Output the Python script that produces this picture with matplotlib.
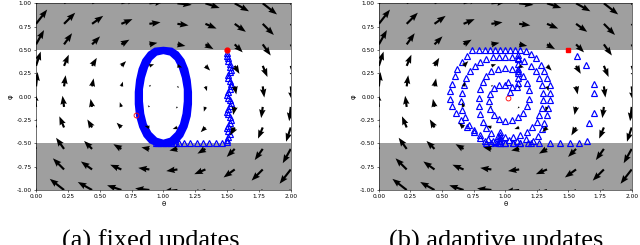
import numpy as np
import matplotlib
matplotlib.use('Agg')
import matplotlib.pyplot as plt
from matplotlib.path import Path
from matplotlib.patches import PathPatch

# --- vector field ---
grid_theta = [0.0, 0.22, 0.44, 0.67, 0.89, 1.11, 1.33, 1.56, 1.78, 2.0]
grid_phi = [-1.0, -0.78, -0.56, -0.33, -0.11, 0.11, 0.33, 0.56, 0.78, 1.0]
flow_u_rows = [-1.0, -0.78, -0.56, -0.33, -0.11, 0.11, 0.33, 0.56, 0.78, 1.0]
flow_v_cols = [1.0, 0.78, 0.56, 0.33, 0.11, -0.11, -0.33, -0.56, -0.78, -1.0]

# --- (a) fixed updates ---
fixed_start = (1.5, 0.5)
fixed_end = (0.786, -0.197)
fixed_down_theta = [1.50, 1.50, 1.51, 1.51, 1.52, 1.52, 1.53, 1.52, 1.51, 1.51, 1.52,
                    1.53, 1.53, 1.52, 1.51, 1.50, 1.51, 1.52, 1.53, 1.52, 1.51, 1.50,
                    1.51, 1.52, 1.53, 1.52, 1.51, 1.50, 1.51, 1.52, 1.51, 1.50, 1.50]
fixed_down_phi = [0.47, 0.44, 0.41, 0.38, 0.35, 0.32, 0.29, 0.26, 0.23, 0.20, 0.17,
                  0.14, 0.11, 0.08, 0.05, 0.02, -0.01, -0.04, -0.07, -0.10, -0.13, -0.16,
                  -0.19, -0.22, -0.25, -0.28, -0.31, -0.34, -0.37, -0.40, -0.43, -0.46, -0.49]
fixed_bottom_theta = [1.46, 1.41, 1.36, 1.31, 1.26, 1.21, 1.16, 1.12, 1.10, 1.08, 1.06,
                      1.04, 1.02, 1.00, 0.98, 0.96, 0.94]
fixed_bottom_phi = [-0.5] * len(fixed_bottom_theta)
# thick orbit band (outer / inner outline of the overlapping markers)
ring_outer_theta = [1.00, 1.07, 1.12, 1.165, 1.195, 1.215, 1.225, 1.225, 1.215, 1.19, 1.155,
                    1.11, 1.05, 0.95, 0.89, 0.845, 0.81, 0.785, 0.775, 0.775, 0.785, 0.805,
                    0.835, 0.88, 0.93]
ring_outer_phi = [0.535, 0.525, 0.48, 0.40, 0.30, 0.18, 0.05, -0.08, -0.21, -0.33, -0.43,
                  -0.50, -0.535, -0.535, -0.50, -0.43, -0.33, -0.21, -0.08, 0.05, 0.18, 0.30,
                  0.40, 0.48, 0.525]
ring_inner_theta = [1.00, 1.05, 1.09, 1.12, 1.145, 1.16, 1.16, 1.15, 1.13, 1.095, 1.05,
                    1.00, 0.95, 0.905, 0.87, 0.85, 0.84, 0.84, 0.855, 0.88, 0.91, 0.95]
ring_inner_phi = [0.455, 0.44, 0.39, 0.31, 0.20, 0.08, -0.05, -0.18, -0.29, -0.38, -0.44,
                  -0.46, -0.44, -0.38, -0.29, -0.18, -0.05, 0.08, 0.20, 0.31, 0.39, 0.44]

# --- (b) adaptive updates ---
adapt_start = (1.5, 0.5)
adapt_end = (1.02, -0.01)
adapt_theta = [
    1.57, 1.64, 1.70, 1.70, 1.70, 1.66, 1.65,
    1.58, 1.51, 1.43, 1.35, 1.27, 1.20, 1.12, 1.06, 1.00, 0.94, 0.89, 0.85,
    0.80, 0.75, 0.70, 0.65, 0.61, 0.58, 0.56, 0.56, 0.58, 0.60, 0.62, 0.66, 0.70,
    0.74, 0.79, 0.84, 0.88, 0.92, 0.96, 1.00, 1.04, 1.08, 1.12, 1.16, 1.20, 1.24,
    1.28, 1.31, 1.33, 1.35, 1.35, 1.35, 1.34, 1.33, 1.31, 1.29, 1.26, 1.22, 1.18,
    1.12, 1.06, 1.00, 0.96, 0.92,
    0.86, 0.80, 0.75, 0.71, 0.68, 0.66, 0.65, 0.66, 0.67, 0.69, 0.72, 0.76, 0.80,
    0.85, 0.90, 0.95, 1.00, 1.05, 1.10, 1.15, 1.20, 1.24, 1.27, 1.29, 1.30, 1.30,
    1.29, 1.27, 1.25, 1.21, 1.17, 1.12, 1.06, 1.00, 0.94, 0.89,
    0.85, 0.82, 0.80, 0.79, 0.79, 0.80, 0.82, 0.85, 0.89, 0.94, 1.00, 1.05, 1.10,
    1.14, 1.17, 1.19, 1.19, 1.17, 1.14, 1.10, 1.05, 1.00, 0.95, 0.91,
    0.88, 0.87, 0.88, 0.91, 0.95, 1.00,
    1.10, 1.10, 1.10, 1.10, 1.10, 1.10, 1.10, 1.09,
    1.02, 1.05, 1.04,
    0.96, 0.96, 0.96, 0.96, 0.96, 0.90, 1.03, 1.09, 1.16, 0.84]
adapt_phi = [
    0.44, 0.34, 0.14, 0.04, -0.17, -0.28, -0.48,
    -0.5, -0.5, -0.5, -0.5, -0.5, -0.5, -0.5, -0.5, -0.5, -0.5, -0.5, -0.5,
    -0.44, -0.38, -0.32, -0.25, -0.18, -0.10, -0.02, 0.06, 0.14, 0.22, 0.30, 0.37, 0.44,
    0.5, 0.5, 0.5, 0.5, 0.5, 0.5, 0.5, 0.5, 0.5, 0.5, 0.49, 0.46, 0.41,
    0.34, 0.27, 0.20, 0.12, 0.04, -0.04, -0.12, -0.20, -0.28, -0.35, -0.42, -0.48, -0.5,
    -0.5, -0.5, -0.5, -0.5, -0.49,
    -0.45, -0.41, -0.36, -0.30, -0.22, -0.14, -0.05, 0.04, 0.12, 0.20, 0.27, 0.33, 0.37,
    0.40, 0.42, 0.42, 0.42, 0.42, 0.41, 0.38, 0.33, 0.27, 0.20, 0.12, 0.04, -0.04,
    -0.12, -0.20, -0.27, -0.33, -0.38, -0.41, -0.43, -0.43, -0.42, -0.39,
    -0.34, -0.27, -0.19, -0.10, -0.01, 0.08, 0.16, 0.22, 0.27, 0.30, 0.31, 0.30, 0.27,
    0.22, 0.15, 0.07, -0.02, -0.10, -0.17, -0.22, -0.25, -0.26, -0.24, -0.20,
    -0.13, -0.05, 0.03, 0.09, 0.12, 0.13,
    0.45, 0.40, 0.35, 0.30, 0.25, 0.20, 0.15, 0.10,
    0.16, 0.10, 0.05,
    -0.38, -0.41, -0.44, -0.47, -0.5, -0.47, -0.46, -0.47, -0.45, -0.47]

captions = ['(a) fixed updates', '(b) adaptive updates']
caption_x = [0.236, 0.775]
x_ticks = [0.0, 0.25, 0.5, 0.75, 1.0, 1.25, 1.5, 1.75, 2.0]
y_ticks = [-1.0, -0.75, -0.5, -0.25, 0.0, 0.25, 0.5, 0.75, 1.0]

BAND_GREY = '#9f9f9f'
TRI_BLUE = '#0000ff'

fig = plt.figure(figsize=(6.4, 2.45), dpi=100)
ax_a = fig.add_axes([0.0563, 0.2245, 0.398, 0.762])
ax_b = fig.add_axes([0.592, 0.2245, 0.395, 0.762])

TT, PP = np.meshgrid(grid_theta, grid_phi)
U = np.tile(np.array(flow_u_rows)[:, None], (1, len(grid_theta)))
V = np.tile(np.array(flow_v_cols)[None, :], (len(grid_phi), 1))


def base_axes(ax):
    ax.axhspan(0.5, 1.0, color=BAND_GREY, lw=0, zorder=0)
    ax.axhspan(-1.0, -0.5, color=BAND_GREY, lw=0, zorder=0)
    ax.set_xlim(0, 2)
    ax.set_ylim(-1, 1)
    ax.set_xticks(x_ticks)
    ax.set_yticks(y_ticks)
    ax.set_xticklabels([f"{t:.2f}" for t in x_ticks])
    ax.set_yticklabels([f"{t:.2f}" for t in y_ticks])
    ax.tick_params(labelsize=4.2, length=1.5, width=0.4, pad=1.5)
    ax.set_xlabel('θ', fontsize=5, labelpad=1.5)
    ax.set_ylabel('φ', fontsize=5, labelpad=2)
    for s in ax.spines.values():
        s.set_linewidth(0.4)


def draw_field(ax):
    ax.quiver(TT, PP, U, V, color='black', scale=7.0, scale_units='inches',
              width=0.0085, headwidth=3, headlength=4, headaxislength=3.6, zorder=5)


tri = dict(marker='^', ls='none', ms=3.8, mfc='none', mec=TRI_BLUE, mew=0.85, zorder=3)

# (a)
base_axes(ax_a)
verts = list(zip(ring_outer_theta, ring_outer_phi)) + [(ring_outer_theta[0], ring_outer_phi[0])]
inner = list(zip(ring_inner_theta, ring_inner_phi))[::-1]
verts += inner + [inner[0]]
codes = ([Path.MOVETO] + [Path.LINETO] * (len(ring_outer_theta) - 1) + [Path.CLOSEPOLY]
         + [Path.MOVETO] + [Path.LINETO] * (len(inner) - 1) + [Path.CLOSEPOLY])
ax_a.add_patch(PathPatch(Path(verts, codes), facecolor=TRI_BLUE, edgecolor='none', zorder=3))
ax_a.plot(fixed_down_theta, fixed_down_phi, **tri)
ax_a.plot(fixed_bottom_theta, fixed_bottom_phi, **tri)
ax_a.plot(*fixed_start, 'o', color='red', ms=3.5, zorder=6)
ax_a.plot(*fixed_end, 'o', mfc='none', mec='red', ms=3.5, mew=0.6, zorder=6)
draw_field(ax_a)

# (b)
base_axes(ax_b)
ax_b.plot(adapt_theta, adapt_phi, **tri)
ax_b.plot(*adapt_start, 's', color='red', ms=3.5, zorder=6)
ax_b.plot(*adapt_end, 'o', mfc='none', mec='red', ms=3.5, mew=0.6, zorder=6)
draw_field(ax_b)

for cx, cap in zip(caption_x, captions):
    fig.text(cx, -0.012, cap, ha='center', va='baseline',
             fontsize=19, family='Liberation Serif')

fig.savefig('out.png', dpi=100)
